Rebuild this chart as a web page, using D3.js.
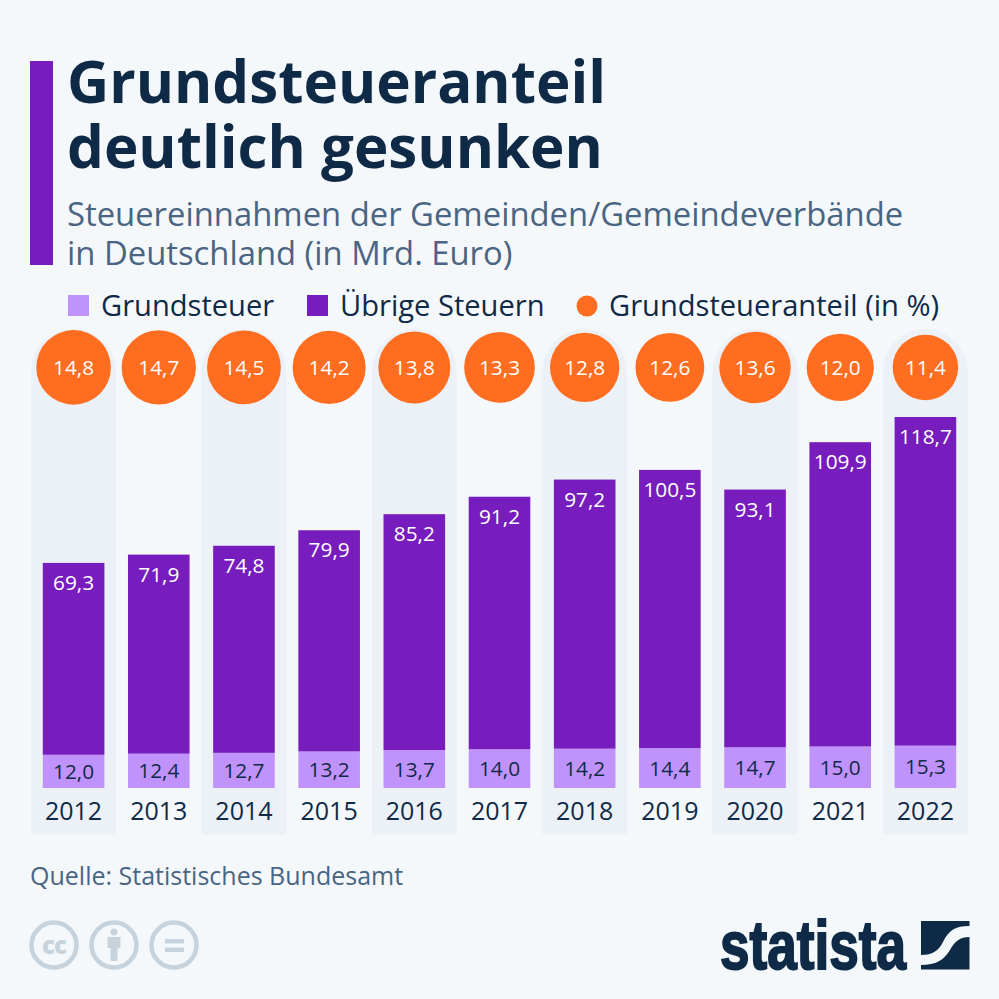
<!DOCTYPE html>
<html lang="de"><head><meta charset="utf-8">
<script src="https://cdnjs.cloudflare.com/ajax/libs/d3/7.8.5/d3.min.js"></script>
<style>html,body{margin:0;padding:0;background:#f5f8fb}svg{display:block}text{font-family:"Open Sans",sans-serif}</style>
</head><body><svg id="c" width="999" height="999"></svg>
<script>
const years=["2012","2013","2014","2015","2016","2017","2018","2019","2020","2021","2022"];
const grundsteuer=[12.0,12.4,12.7,13.2,13.7,14.0,14.2,14.4,14.7,15.0,15.3];
const uebrige=[69.3,71.9,74.8,79.9,85.2,91.2,97.2,100.5,93.1,109.9,118.7];
const anteil=[14.8,14.7,14.5,14.2,13.8,13.3,12.8,12.6,13.6,12.0,11.4];
const titleLines=["Grundsteueranteil","deutlich gesunken"];
const subLines=["Steuereinnahmen der Gemeinden/Gemeindeverbände","in Deutschland (in Mrd. Euro)"];
const legendItems=[["Grundsteuer","#c093fc","rect",66,101],["Übrige Steuern","#771cbd","rect",305,340],["Grundsteueranteil (in %)","#ff6e20","circle",577,609]];
const source="Quelle: Statistisches Bundesamt";
const NAVY="#0f2a47",SUB="#4a6583",BAND="#ecf1f8",LIGHT="#c093fc",PURPLE="#771cbd",ORANGE="#ff6e20",ICON="#c6d3dc";
const fmt=v=>d3.format(".1f")(v).replace(".",",");
const svg=d3.select("#c");
svg.append("rect").attr("width",999).attr("height",999).attr("fill","#f5f8fb");
const x=d3.scaleBand().domain(years).range([31,968]);
const y=d3.scaleLinear().domain([0,134]).range([788,417]);
const rScale=d3.scaleSqrt().domain([0,14.8]).range([0,37.3]);
const bw=x.bandwidth(),barW=61.6;
const cx=d=>x(d)+bw/2;

svg.append("rect").attr("x",30).attr("y",61).attr("width",23).attr("height",204).attr("fill",PURPLE);
svg.selectAll(".t").data(titleLines).join("text").attr("x",67).attr("y",(d,i)=>103+i*65)
 .attr("font-size",58.3).attr("font-weight",700).attr("fill",NAVY).text(d=>d);
svg.selectAll(".s").data(subLines).join("text").attr("x",67).attr("y",(d,i)=>226+i*39)
 .attr("font-size",32.8).attr("fill",SUB).text(d=>d);

const lg=svg.selectAll(".lg").data(legendItems).join("g");
lg.filter(d=>d[2]=="rect").append("rect").attr("x",d=>d[3]+2).attr("y",295).attr("width",21).attr("height",21).attr("fill",d=>d[1]);
lg.filter(d=>d[2]=="circle").append("circle").attr("cx",d=>d[3]+10).attr("cy",306).attr("r",10.5).attr("fill",d=>d[1]);
lg.append("text").attr("x",d=>d[4]).attr("y",316).attr("font-size",29.1).attr("fill",NAVY).text(d=>d[0]);

// alternating column bands
const bandTop=329,bandBot=835;
svg.selectAll(".band").data(years.filter((d,i)=>i%2==0)).join("path").attr("fill",BAND)
 .attr("d",d=>{const l=x(d),r=l+bw,h=bw/2,c=3;
  return `M${l},${bandTop+h}A${h},${h} 0 0 1 ${r},${bandTop+h}V${bandBot-c}Q${r},${bandBot} ${r-c},${bandBot}H${l+c}Q${l},${bandBot} ${l},${bandBot-c}Z`;});

svg.selectAll(".low").data(years).join("rect").attr("x",d=>cx(d)-barW/2).attr("width",barW)
 .attr("y",(d,i)=>y(grundsteuer[i])).attr("height",(d,i)=>y(0)-y(grundsteuer[i])).attr("fill",LIGHT);
svg.selectAll(".up").data(years).join("rect").attr("x",d=>cx(d)-barW/2).attr("width",barW)
 .attr("y",(d,i)=>y(grundsteuer[i]+uebrige[i])).attr("height",(d,i)=>y(grundsteuer[i])-y(grundsteuer[i]+uebrige[i])).attr("fill",PURPLE);
svg.selectAll(".lowT").data(years).join("text").attr("x",cx).attr("y",(d,i)=>(y(grundsteuer[i])+y(0))/2+7.5)
 .attr("text-anchor","middle").attr("font-size",20.8).attr("font-weight",500).attr("fill",NAVY).text((d,i)=>fmt(grundsteuer[i]));
svg.selectAll(".upT").data(years).join("text").attr("x",cx).attr("y",(d,i)=>y(grundsteuer[i]+uebrige[i])+27)
 .attr("text-anchor","middle").attr("font-size",20.8).attr("font-weight",500).attr("fill","#fff").text((d,i)=>fmt(uebrige[i]));
svg.selectAll(".ci").data(years).join("circle").attr("cx",cx).attr("cy",367.4).attr("r",(d,i)=>rScale(anteil[i]))
 .attr("fill",ORANGE);
svg.selectAll(".ciT").data(years).join("text").attr("x",cx).attr("y",375)
 .attr("text-anchor","middle").attr("font-size",20.8).attr("font-weight",500).attr("fill","#fff").text((d,i)=>fmt(anteil[i]));
svg.selectAll(".yr").data(years).join("text").attr("x",cx).attr("y",820)
 .attr("text-anchor","middle").attr("font-size",25).attr("fill",NAVY).text(d=>d);

svg.append("text").attr("x",30).attr("y",885).attr("font-size",25).attr("fill",SUB).text(source);

// licence icons
const icons=svg.append("g").attr("fill","none").attr("stroke",ICON).attr("stroke-width",4.5);
[54,114,174].forEach(c=>icons.append("circle").attr("cx",c).attr("cy",945).attr("r",22.5));
svg.append("text").attr("x",54).attr("y",953.5).attr("text-anchor","middle").attr("font-size",24).attr("font-weight",800).attr("letter-spacing",-1).attr("fill",ICON).text("cc");
const per=svg.append("g").attr("fill",ICON);
per.append("circle").attr("cx",114).attr("cy",932).attr("r",3.5);
per.append("path").attr("d","M107.5,937H120.5V948H117.5V961H110.5V948H107.5Z");
per.append("rect").attr("x",165).attr("y",939).attr("width",19).attr("height",4.5);
per.append("rect").attr("x",165).attr("y",947.5).attr("width",19).attr("height",4.5);

// statista wordmark
svg.append("text").attr("x",720).attr("y",968.5).attr("font-size",69).attr("font-weight",700)
 .attr("fill",NAVY).attr("stroke",NAVY).attr("stroke-width",2).attr("textLength",186).attr("lengthAdjust","spacingAndGlyphs").style("font-family","'Liberation Sans'").text("statista");
svg.append("path").attr("fill",NAVY).attr("d","M921,921H969.5V926C955,926 949,930 943,942C938,952 931,955 921,955Z");
svg.append("path").attr("fill",NAVY).attr("d","M969.5,937V969.5H921V965C936,965 944,960 950,950C955,941 960,937 969.5,937Z");
</script></body></html>
